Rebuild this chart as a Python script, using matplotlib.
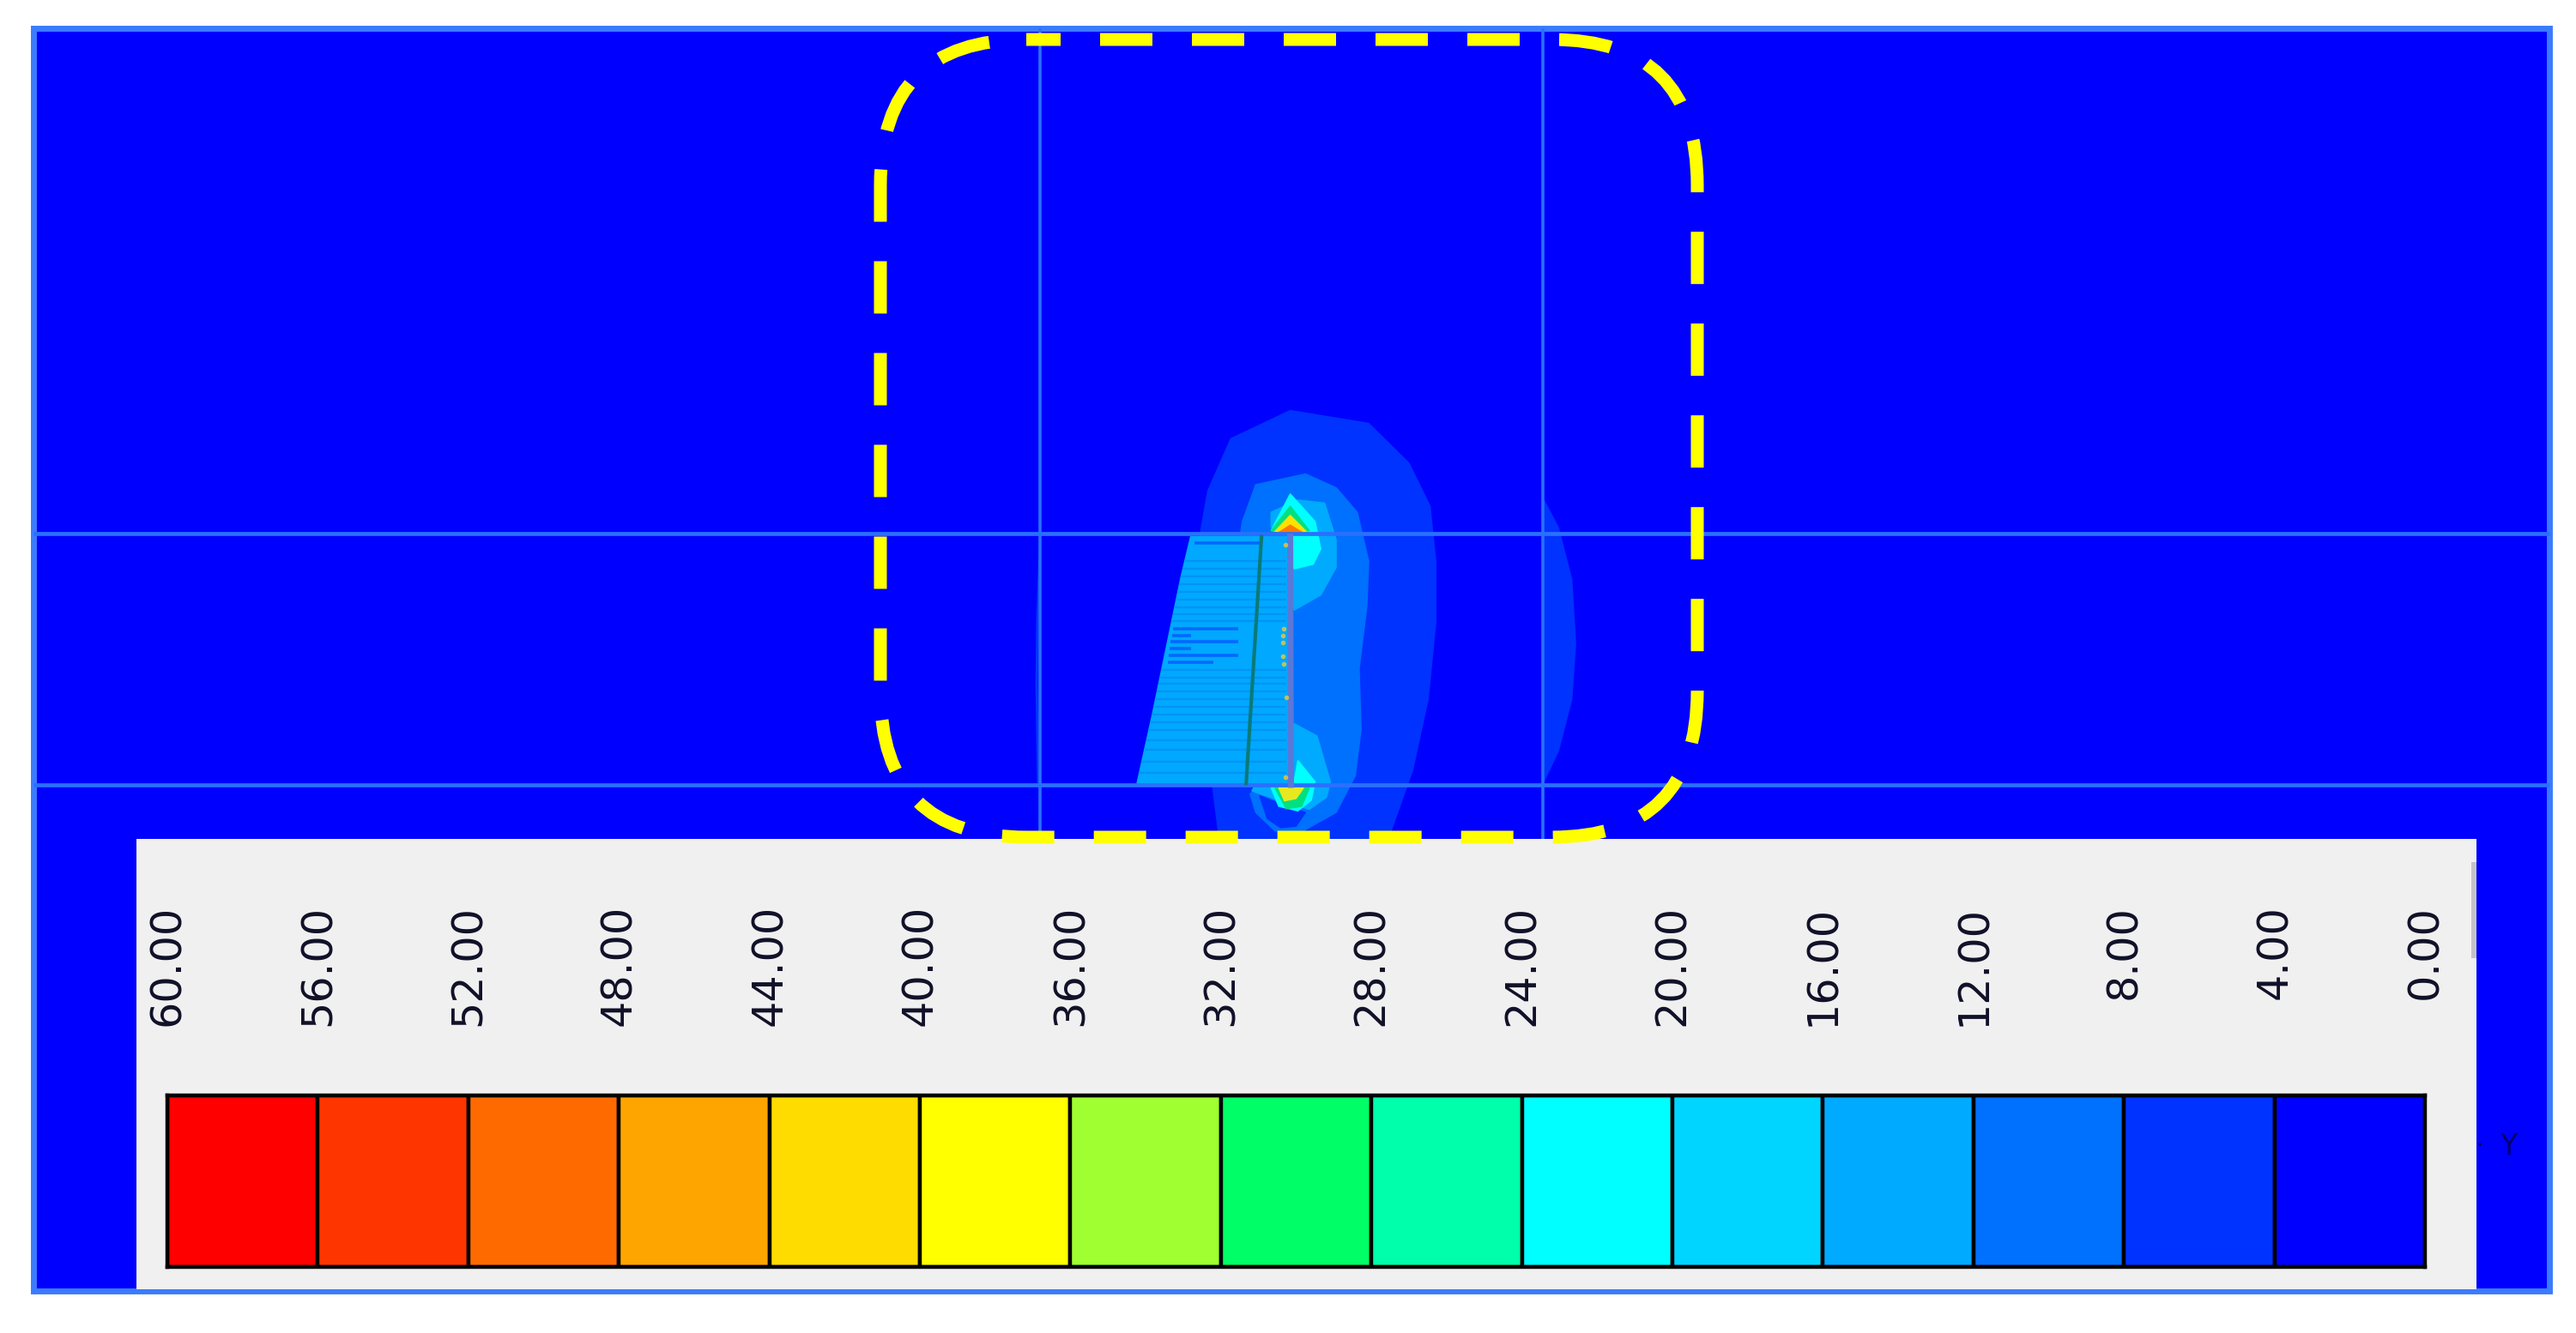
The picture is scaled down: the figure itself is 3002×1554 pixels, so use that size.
import numpy as np
import matplotlib
matplotlib.use("Agg")
import matplotlib.pyplot as plt
from matplotlib.patches import Polygon, Rectangle, FancyBboxPatch

plt.rcParams['lines.scale_dashes'] = False
plt.rcParams['font.family'] = ['DejaVu Sans']

# ---- legend data ----
level_values = [60, 56, 52, 48, 44, 40, 36, 32, 28, 24, 20, 16, 12, 8, 4, 0]
level_labels = ["60.00", "56.00", "52.00", "48.00", "44.00", "40.00", "36.00", "32.00",
                "28.00", "24.00", "20.00", "16.00", "12.00", "8.00", "4.00", "0.00"]
level_colors = ["#ff0000", "#ff3500", "#ff6a00", "#ffa500", "#ffdc00", "#ffff00", "#a0ff30",
                "#00ff66", "#00ffaa", "#00ffff", "#00d5ff", "#00aaff", "#0070ff", "#0033ff", "#0000ff"]

band4_outer = [(680,108),(885,150),(990,280),(1045,420),(1060,600),(1060,800),(1040,1050),(1000,1280),
               (935,1510),(495,1510),(478,1340),(445,510),(465,370),(525,200)]
band4_right = [(1340,395),(1380,490),(1415,660),(1425,870),(1415,1050),(1380,1220),(1340,1325)]
band8_main = [(720,315),(800,360),(855,440),(885,600),(880,750),(860,950),(865,1150),(850,1300),(800,1420),
              (700,1490),(640,1480),(590,1420),(575,1360),(600,1330),(550,510),(555,470),(590,350)]
band4_hole = [(600,1365),(640,1385),(720,1420),(695,1465),(655,1470),(620,1440)]
band12_top = [(700,400),(770,410),(800,530),(800,620),(760,710),(690,760),(680,520),(630,490),(630,440)]
band12_bottom = [(690,1130),(750,1170),(785,1320),(775,1370),(730,1410),(650,1380),(580,1350),(590,1325)]
band20_top = [(680,380),(745,470),(760,560),(740,610),(690,625),(680,510),(630,500)]
band20_bottom = [(700,1250),(745,1320),(735,1380),(700,1415),(650,1400),(630,1340),(690,1320)]
band28_top = [(680,420),(730,500),(630,500)]
band28_bottom = [(640,1340),(730,1340),(710,1400),(670,1408)]
band40_top = [(680,450),(722,503),(640,503)]
band40_bottom = [(650,1340),(715,1340),(695,1375),(665,1382)]
band48_top = [(680,482),(712,506),(650,506)]
wedge_left_y = [520, 650, 800, 950, 1100, 1325]
wedge_left_x = [420, 395, 370, 345, 320, 280]
stripe_y = [600, 625, 650, 675, 700, 725, 750, 772, 795, 955, 980, 1000, 1025, 1050, 1075,
            1100, 1125, 1150, 1185, 1215, 1255, 1290]
deep_stripe_y = [540, 820, 842, 862, 885, 908, 930]
deep_stripe_x = [430, 375, 372, 368, 365, 362, 360]
deep_stripe_end = [600, 545, 420, 545, 420, 545, 480]
dots_x = [668, 662, 660, 660, 660, 663, 670, 668]
dots_y = [545, 820, 842, 865, 910, 935, 1045, 1305]

H_GRID = [622, 915]
V_GRID = [1212, 1798]


def crop(points):
    p = np.asarray(points, float)
    return np.column_stack([1200 + p[:, 0] / 2.24, 440 + p[:, 1] / 2.8])


fig = plt.figure(figsize=(30.02, 15.54), dpi=100, facecolor="white")
ax = fig.add_axes([0, 0, 1, 1])
ax.set_xlim(0, 3002)
ax.set_ylim(1554, 0)
ax.axis("off")

# background
ax.add_patch(Rectangle((39, 33), 2932, 1472, fc="#0000ff", ec="#3b7bff", lw=5, zorder=1))


def fill(pts, color, z):
    ax.add_patch(Polygon(crop(pts), closed=True, fc=color, ec=color, lw=1, zorder=z, antialiased=True))


fill(band4_outer, level_colors[13], 2)
fill(band4_right, level_colors[13], 2)
fill(band8_main, level_colors[12], 3)
fill(band4_hole, level_colors[13], 3.2)
fill(band12_top, level_colors[11], 4)
fill(band12_bottom, level_colors[11], 4)
fill(band20_top, level_colors[9], 5)
fill(band20_bottom, level_colors[9], 5)
fill(band28_top, "#00e080", 6)
fill(band28_bottom, "#00e080", 6)
fill(band40_top, "#ffe000", 7)
fill(band40_bottom, "#e8e820", 7)
fill(band48_top, "#ff7a00", 8)

# wedge
wedge = [(420, 520), (680, 520), (680, 1325), (280, 1325)] + [(x, y) for x, y in zip(wedge_left_x[::-1], wedge_left_y[::-1])]
fill(wedge, "#00a8ff", 9)
for y in stripe_y:
    x0 = np.interp(y, wedge_left_y, wedge_left_x)
    p = crop([(x0, y), (670, y)])
    ax.plot(p[:, 0], p[:, 1], color="#0094f5", lw=1.6, zorder=10, solid_capstyle="butt")
for y, x0, x1 in zip(deep_stripe_y, deep_stripe_x, deep_stripe_end):
    p = crop([(x0, y), (x1, y)])
    ax.plot(p[:, 0], p[:, 1], color="#0068ff", lw=2.6, zorder=10, solid_capstyle="butt")

# grid lines
for y in H_GRID:
    ax.plot([39, 2971], [y, y], color="#2a70ff", lw=3.4, zorder=11, solid_capstyle="butt")
for x in V_GRID:
    ax.plot([x, x], [33, 978], color="#2a70ff", lw=2.6, zorder=11, solid_capstyle="butt")
arc = crop([(27, 530), (20, 800), (18, 1000), (22, 1320)])
ax.plot(arc[:, 0], arc[:, 1], color="#0038ff", lw=2, zorder=2.5)

# shell lines over the wedge
p = crop([(605, 520), (565, 1325)])
ax.plot(p[:, 0], p[:, 1], color="#0a7a78", lw=3, zorder=12)
p = crop([(680, 520), (682, 1330)])
ax.plot(p[:, 0], p[:, 1], color="#5a78d8", lw=5, zorder=12)
p = crop(list(zip(dots_x, dots_y)))
ax.plot(p[:, 0], p[:, 1], ls="none", marker="o", ms=4, color="#c0c060", mec="none", zorder=13)

# legend panel
ax.add_patch(Rectangle((159, 978), 2727, 525, fc="#f0f0f0", ec="none", zorder=20))
ax.add_patch(Rectangle((2880, 1005), 6, 112, fc="#c4c4c4", ec="none", zorder=21))

# colour bar on its own value scale
W, HT = 3002.0, 1554.0
cax = fig.add_axes([195 / W, 1 - 1477 / HT, (2826 - 195) / W, 200 / HT], zorder=5)
cax.set_xlim(level_values[0], level_values[-1])
cax.set_ylim(0, 1)
cax.bar(level_values[:-1], [1] * len(level_colors), width=[-4] * len(level_colors), align="edge",
        color=level_colors, edgecolor="black", linewidth=3.2)
cax.set_yticks([])
cax.xaxis.tick_top()
cax.set_xticks(level_values)
cax.set_xticklabels(level_labels, rotation=90, fontsize=35.5, color="#101028")
cax.tick_params(axis="x", length=0, pad=160)
for t in cax.get_xticklabels():
    t.set_va("top")
    t.set_ha("center")
for s in cax.spines.values():
    s.set_linewidth(3.2)
    s.set_color("black")

# yellow highlight on top of the panel
ax2 = fig.add_axes([0, 0, 1, 1], zorder=10)
ax2.set_xlim(0, 3002)
ax2.set_ylim(1554, 0)
ax2.axis("off")
ax2.patch.set_alpha(0)
px = 0.72
box = FancyBboxPatch((1026, 46), 1978 - 1026, 976 - 46, boxstyle="round,pad=0,rounding_size=170",
                     fc="none", ec="#ffff00", lw=15 * px, capstyle="butt",
                     linestyle=(21 * px, (61 * px, 46 * px)))
ax2.add_patch(box)

# axis marker
ax2.text(2889, 1336, "·", fontsize=18, color="#000040", ha="center", va="center")
ax2.text(2923, 1337, "Y", fontsize=24, color="#000070", ha="center", va="center")

fig.savefig("out.png", dpi=100, facecolor="white")
